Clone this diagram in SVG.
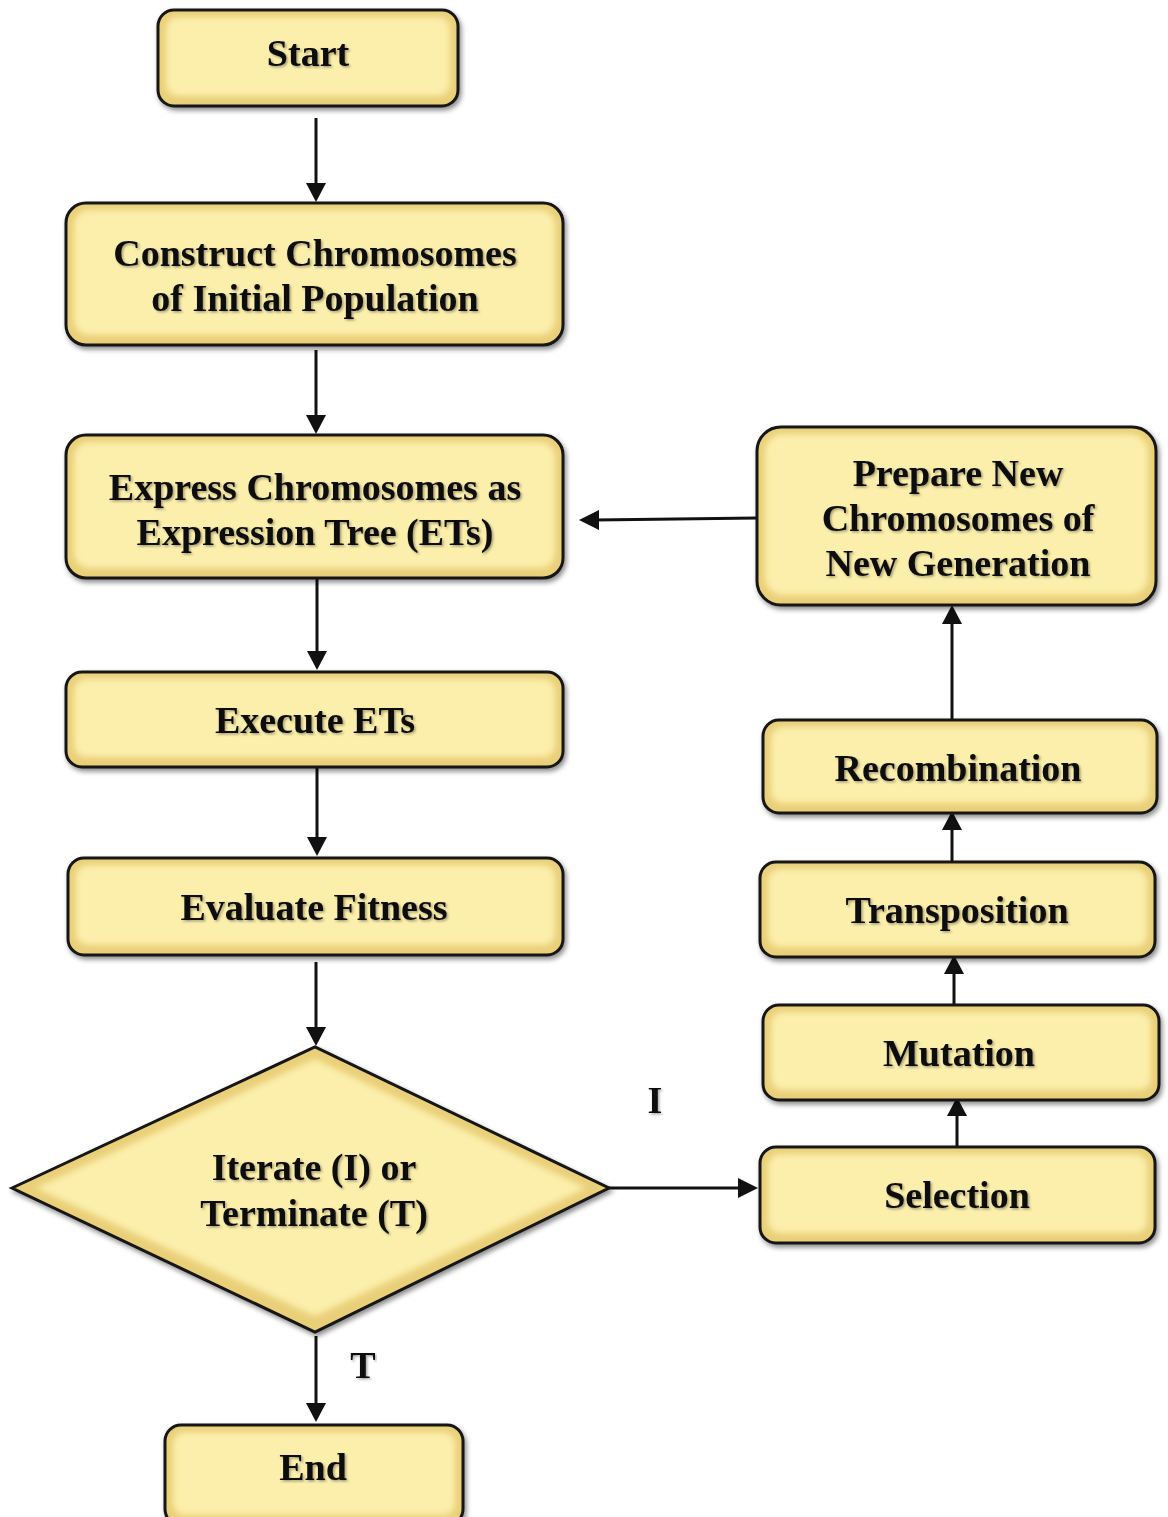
<svg xmlns="http://www.w3.org/2000/svg" width="1168" height="1517" viewBox="0 0 1168 1517">
  <defs>
    <style>
      .box { fill: #E9CF78; stroke: #141414; stroke-width: 3; }
      .face { fill: #FCEFAC; filter: url(#soft); }
      .lbl { font-family: "Liberation Serif", "Times New Roman", serif; font-weight: bold; font-size: 38px; fill: #0d0d0d; text-anchor: middle; filter: url(#tshadow); }
    </style>
    <filter id="drop" x="-10%" y="-10%" width="125%" height="130%">
      <feDropShadow dx="2" dy="3" stdDeviation="2.5" flood-color="#000" flood-opacity="0.45"/>
    </filter>
    <filter id="soft" x="-10%" y="-10%" width="120%" height="120%">
      <feGaussianBlur stdDeviation="3"/>
    </filter>
    <filter id="tshadow" x="-5%" y="-20%" width="110%" height="140%">
      <feDropShadow dx="1.5" dy="1.5" stdDeviation="1" flood-color="#000" flood-opacity="0.35"/>
    </filter>
  </defs>

  <!-- connectors: shafts plus filled triangular heads -->
  <g id="connectors" stroke="#111" stroke-width="3" fill="#111">
    <line x1="316" y1="118" x2="316" y2="188"/>
    <path stroke="none" d="M306,183 L316,202 L326,183 z"/>
    <line x1="316" y1="350" x2="316" y2="420"/>
    <path stroke="none" d="M306,415 L316,434 L326,415 z"/>
    <line x1="317" y1="578" x2="317" y2="656"/>
    <path stroke="none" d="M307,651 L317,670 L327,651 z"/>
    <line x1="317" y1="767" x2="317" y2="842"/>
    <path stroke="none" d="M307,837 L317,856 L327,837 z"/>
    <line x1="316" y1="962" x2="316" y2="1032"/>
    <path stroke="none" d="M306,1027 L316,1046 L326,1027 z"/>
    <line x1="316" y1="1336" x2="316" y2="1408"/>
    <path stroke="none" d="M306,1403 L316,1422 L326,1403 z"/>
    <!-- iterate branch -->
    <line x1="609" y1="1188" x2="742" y2="1188"/>
    <path stroke="none" d="M738,1178 L758,1188 L738,1198 z"/>
    <!-- upward chain on the right -->
    <line x1="957" y1="1147" x2="957" y2="1112"/>
    <path stroke="none" d="M947,1116 L957,1097 L967,1116 z"/>
    <line x1="954" y1="1005" x2="954" y2="970"/>
    <path stroke="none" d="M944,974 L954,955 L964,974 z"/>
    <line x1="952" y1="862" x2="952" y2="826"/>
    <path stroke="none" d="M942,830 L952,811 L962,830 z"/>
    <line x1="952" y1="720" x2="952" y2="620"/>
    <path stroke="none" d="M942,624 L952,605 L962,624 z"/>
    <!-- loop back to expression step -->
    <line x1="757" y1="518" x2="595" y2="520"/>
    <path stroke="none" d="M599,510 L579,520 L599,530 z"/>
  </g>

  <!-- nodes -->
  <g id="start">
    <g filter="url(#drop)">
      <rect class="box" x="158" y="10" width="300" height="96" rx="16"/>
      <rect class="face" x="166" y="17" width="284" height="79" rx="12"/>
    </g>
    <text class="lbl" x="308" y="66">Start</text>
  </g>

  <g id="construct">
    <g filter="url(#drop)">
      <rect class="box" x="66" y="203" width="497" height="142" rx="20"/>
      <rect class="face" x="74" y="210" width="481" height="125" rx="15"/>
    </g>
    <text class="lbl" x="315" y="266">Construct Chromosomes</text>
    <text class="lbl" x="315" y="311">of Initial  Population</text>
  </g>

  <g id="express">
    <g filter="url(#drop)">
      <rect class="box" x="66" y="435" width="497" height="143" rx="20"/>
      <rect class="face" x="74" y="442" width="481" height="126" rx="15"/>
    </g>
    <text class="lbl" x="315" y="500">Express Chromosomes as</text>
    <text class="lbl" x="315" y="545">Expression Tree (ETs)</text>
  </g>

  <g id="execute">
    <g filter="url(#drop)">
      <rect class="box" x="66" y="672" width="497" height="95" rx="16"/>
      <rect class="face" x="74" y="679" width="481" height="78" rx="12"/>
    </g>
    <text class="lbl" x="315" y="733">Execute ETs</text>
  </g>

  <g id="evaluate">
    <g filter="url(#drop)">
      <rect class="box" x="68" y="858" width="495" height="97" rx="16"/>
      <rect class="face" x="76" y="865" width="479" height="80" rx="12"/>
    </g>
    <text class="lbl" x="314" y="920">Evaluate Fitness</text>
  </g>

  <g id="decision">
    <g filter="url(#drop)">
      <polygon class="box" points="12,1188 315,1047 609,1188 315,1332"/>
      <polygon class="face" points="36,1188 315,1059 586,1188 315,1316"/>
    </g>
    <text class="lbl" x="314" y="1180">Iterate (I) or</text>
    <text class="lbl" x="314" y="1226">Terminate (T)</text>
  </g>

  <g id="end">
    <g filter="url(#drop)">
      <rect class="box" x="165" y="1425" width="298" height="100" rx="16"/>
      <rect class="face" x="173" y="1432" width="282" height="83" rx="12"/>
    </g>
    <text class="lbl" x="313" y="1480">End</text>
  </g>

  <g id="prepare">
    <g filter="url(#drop)">
      <rect class="box" x="757" y="427" width="399" height="178" rx="24"/>
      <rect class="face" x="765" y="434" width="383" height="161" rx="18"/>
    </g>
    <text class="lbl" x="958" y="486">Prepare New</text>
    <text class="lbl" x="958" y="531">Chromosomes of</text>
    <text class="lbl" x="958" y="576">New Generation</text>
  </g>

  <g id="recombination">
    <g filter="url(#drop)">
      <rect class="box" x="763" y="720" width="394" height="93" rx="16"/>
      <rect class="face" x="771" y="727" width="378" height="76" rx="12"/>
    </g>
    <text class="lbl" x="958" y="781">Recombination</text>
  </g>

  <g id="transposition">
    <g filter="url(#drop)">
      <rect class="box" x="760" y="862" width="395" height="95" rx="16"/>
      <rect class="face" x="768" y="869" width="379" height="78" rx="12"/>
    </g>
    <text class="lbl" x="957" y="923">Transposition</text>
  </g>

  <g id="mutation">
    <g filter="url(#drop)">
      <rect class="box" x="763" y="1005" width="396" height="95" rx="16"/>
      <rect class="face" x="771" y="1012" width="380" height="78" rx="12"/>
    </g>
    <text class="lbl" x="959" y="1066">Mutation</text>
  </g>

  <g id="selection">
    <g filter="url(#drop)">
      <rect class="box" x="760" y="1147" width="395" height="96" rx="16"/>
      <rect class="face" x="768" y="1154" width="379" height="79" rx="12"/>
    </g>
    <text class="lbl" x="957" y="1208">Selection</text>
  </g>

  <!-- branch labels -->
  <g id="branch-labels">
    <text class="lbl" x="655" y="1113">I</text>
    <text class="lbl" x="363" y="1378">T</text>
  </g>
</svg>
